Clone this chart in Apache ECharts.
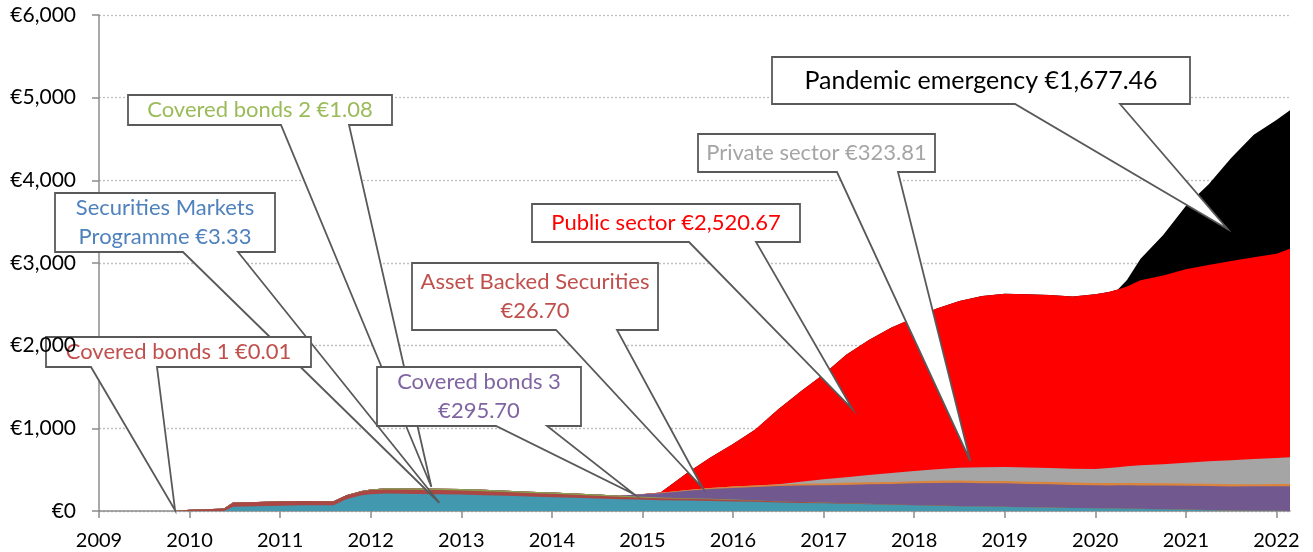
<!DOCTYPE html>
<html>
<head>
<meta charset="utf-8">
<script src="https://cdn.jsdelivr.net/npm/echarts@6/dist/echarts.min.js"></script>
<style>
  html, body { margin: 0; padding: 0; background: #fff; }
  #chart { width: 1313px; height: 552px; }
</style>
</head>
<body>
<div id="chart"></div>
<script>
// time axis in decimal years
const dates = [2009.84, 2010.00, 2010.33, 2010.38, 2010.48, 2010.75, 2011.00, 2011.25, 2011.59, 2011.73,
  2011.90, 2012.00, 2012.18, 2012.50, 2012.75, 2013.00, 2013.25, 2013.50, 2013.75, 2014.00,
  2014.25, 2014.50, 2014.75, 2014.95, 2015.20, 2015.50, 2015.75, 2016.00, 2016.25, 2016.50,
  2016.75, 2017.00, 2017.25, 2017.50, 2017.75, 2018.00, 2018.25, 2018.50, 2018.75, 2019.00,
  2019.25, 2019.50, 2019.75, 2020.00, 2020.15, 2020.25, 2020.35, 2020.50, 2020.75, 2021.00,
  2021.25, 2021.50, 2021.75, 2022.00, 2022.15];

// holdings, € bn (stack order bottom -> top)
const smp = [0, 0, 0, 0, 50, 57, 65, 69, 69, 143,
  190, 204, 212, 206, 204, 200, 192, 184, 176, 167,
  159, 151, 143, 139, 131, 127, 122, 116, 111, 102,
  98, 93, 87, 81, 75, 69, 64, 58, 53, 48,
  44, 40, 36, 32, 30, 29, 27, 25, 21, 16,
  10, 4, 3, 3, 3.33];
const cb1 = [0, 15, 28, 30, 52, 52, 53, 53, 49, 49,
  49, 49, 48, 50, 49, 49, 48, 45, 41, 41,
  37, 33, 28, 24, 24, 20, 21, 18, 15, 12,
  10, 8, 6, 5, 4, 3, 2, 2, 1, 1,
  1, 0.5, 0.3, 0.2, 0.1, 0.1, 0.1, 0.1, 0.1, 0.1,
  0.1, 0.1, 0.1, 0.1, 0.01];
const cb2 = [0, 0, 0, 0, 0, 0, 0, 0, 0, 0,
  3, 8, 16, 16, 16, 16, 16, 16, 16, 16,
  16, 16, 13, 13, 8, 8, 5, 4, 3, 2,
  2, 1, 1, 1, 1, 1, 1, 1, 1, 1,
  1, 1, 1, 1, 1, 1, 1, 1, 1, 1,
  1, 1, 1, 1, 1.08];
const cb3 = [0, 0, 0, 0, 0, 0, 0, 0, 0, 0,
  0, 0, 0, 0, 0, 0, 0, 0, 0, 0,
  0, 0, 0, 25, 53, 90, 118, 140, 160, 186,
  198, 208, 222, 236, 246, 262, 271, 282, 282, 285,
  282, 282, 278, 277, 278, 280, 282, 283, 285, 288,
  290, 292, 294, 295, 295.70];
const abs = [0, 0, 0, 0, 0, 0, 0, 0, 0, 0,
  0, 0, 0, 0, 0, 0, 0, 0, 0, 0,
  0, 0, 0, 0, 4, 8, 13, 17, 19, 20,
  22, 24, 25, 25, 26, 26, 27, 27, 27, 27,
  27, 28, 29, 30, 30, 30, 30, 30, 29, 28,
  28, 28, 27, 27, 26.70];
const privateSector = [0, 0, 0, 0, 0, 0, 0, 0, 0, 0,
  0, 0, 0, 0, 0, 0, 0, 0, 0, 0,
  0, 0, 0, 0, 0, 0, 0, 0, 0, 3,
  25, 49, 68, 88, 107, 123, 140, 153, 165, 170,
  170, 168, 168, 168, 180, 188, 200, 215, 230, 251,
  272, 290, 305, 315, 323.81];
const publicSector = [0, 0, 0, 0, 0, 0, 0, 0, 0, 0,
  0, 0, 0, 0, 0, 0, 0, 0, 0, 0,
  0, 0, 0, 0, 5, 212, 367, 515, 682, 905,
  1095, 1270, 1481, 1634, 1761, 1855, 1945, 2017, 2071, 2097,
  2097, 2093, 2083, 2113, 2131, 2152, 2175, 2236, 2284, 2339,
  2374, 2409, 2440, 2472, 2520.67];
const pandemic = [0, 0, 0, 0, 0, 0, 0, 0, 0, 0,
  0, 0, 0, 0, 0, 0, 0, 0, 0, 0,
  0, 0, 0, 0, 0, 0, 0, 0, 0, 0,
  0, 0, 0, 0, 0, 0, 0, 0, 0, 0,
  0, 0, 0, 0, 0, 0, 80, 260, 489, 767,
  975, 1246, 1480, 1617, 1677.46];

const yearTicks = [2009, 2010, 2011, 2012, 2013, 2014, 2015, 2016, 2017, 2018, 2019, 2020, 2021, 2022];

const layers = [
  { name: 'Securities Markets Programme', data: smp, color: '#4198AF' },
  { name: 'Covered bonds 1', data: cb1, color: '#AA4643' },
  { name: 'Covered bonds 2', data: cb2, color: '#89A54E' },
  { name: 'Covered bonds 3', data: cb3, color: '#71588F' },
  { name: 'Asset Backed Securities', data: abs, color: '#DB843D' },
  { name: 'Private sector', data: privateSector, color: '#A5A5A5' },
  { name: 'Public sector', data: publicSector, color: '#FF0000' },
  { name: 'Pandemic emergency', data: pandemic, color: '#000000' },
];

// callouts: box in px, wedge base x on box bottom, tip in data coords
const callouts = [
  { text: 'Securities Markets\nProgramme €3.33', color: '#4F81BD', box: [55, 193, 275, 252], base: [183, 238], tip: [2012.757, 100] },
  { text: 'Covered bonds 2 €1.08', color: '#9BBB59', box: [128, 95, 392, 125], base: [281, 349], tip: [2012.67, 290] },
  { text: 'Covered bonds 1 €0.01', color: '#C0504D', box: [46, 337, 311, 367], base: [91, 157], tip: [2009.84, 10] },
  { text: 'Covered bonds 3\n€295.70', color: '#8064A2', box: [377, 367, 581, 426], base: [496, 547], tip: [2014.91, 203] },
  { text: 'Asset Backed Securities\n€26.70', color: '#C0504D', box: [412, 263, 658, 330], base: [556, 617], tip: [2015.665, 278] },
  { text: 'Public sector €2,520.67', color: '#FF0000', box: [532, 204, 800, 242], base: [689, 756], tip: [2017.32, 1230] },
  { text: 'Private sector €323.81', color: '#A5A5A5', box: [698, 134, 935, 172], base: [837, 898], tip: [2018.62, 605] },
  { text: 'Pandemic emergency €1,677.46', color: '#000000', box: [772, 57, 1190, 104], base: [1015, 1120], tip: [2021.46, 3412], size: 25 },
];

const FONT = 'Lato, "Noto Sans", sans-serif';
const axisGrey = '#8C8C8C';

// stack by hand: running totals, drawn top layer first so lower layers paint over
const running = dates.map(() => 0);
const stacked = layers.map((l) => {
  const tops = l.data.map((v, i) => (running[i] += v));
  return { ...l, tops };
});

const chart = echarts.init(document.getElementById('chart'));

const option = {
  animation: false,
  grid: { left: 99, right: 23, top: 15, bottom: 41 },
  xAxis: {
    type: 'value',
    min: 2009,
    max: 2022.15,
    interval: 1,
    axisLine: { lineStyle: { color: axisGrey, width: 1.5 } },
    axisTick: { show: true, length: 7, lineStyle: { color: axisGrey, width: 1.5 }, customValues: yearTicks },
    axisLabel: {
      color: '#000', fontSize: 20, fontFamily: FONT, margin: 20,
      customValues: yearTicks,
      formatter: (v) => (Number.isInteger(v) ? String(v) : ''),
    },
    splitLine: { show: false },
  },
  yAxis: [
    {
      type: 'value', min: 0, max: 6000, interval: 1000, position: 'left',
      axisLine: { show: true, lineStyle: { color: axisGrey, width: 1.5 } },
      axisTick: { show: true, length: 7, lineStyle: { color: axisGrey, width: 1.5 } },
      axisLabel: { show: false },
      splitLine: { show: true, lineStyle: { color: '#BFBFBF', type: [2, 2], width: 1.3 } },
    },
    {
      type: 'value', min: 0, max: 6000, interval: 1000, position: 'left', z: 100,
      axisLine: { show: false },
      axisTick: { show: false },
      splitLine: { show: false },
      axisLabel: {
        color: '#000', fontSize: 21, fontFamily: FONT, margin: 23,
        formatter: (v) => '€' + v.toLocaleString('en-US'),
      },
    },
  ],
  series: stacked.slice().reverse().map((l) => ({
    name: l.name,
    type: 'line',
    yAxisIndex: 0,
    symbol: 'none',
    lineStyle: { width: 0 },
    areaStyle: { color: l.color, opacity: 1, origin: 'start' },
    data: dates.map((d, i) => [d, l.tops[i]]),
  })),
};

chart.setOption(option);

// draw the speech-bubble callouts once the scales exist
const graphics = [];
callouts.forEach((c, i) => {
  const [x0, y0, x1, y1] = c.box;
  const tip = chart.convertToPixel({ xAxisIndex: 0, yAxisIndex: 0 }, c.tip);
  graphics.push({
    type: 'polygon',
    z: 50 + i * 2,
    shape: {
      points: [[x0, y0], [x1, y0], [x1, y1], [c.base[1], y1], tip, [c.base[0], y1], [x0, y1]],
    },
    style: { fill: '#fff', stroke: '#595959', lineWidth: 1.8 },
  });
  const size = c.size || 22;
  graphics.push({
    type: 'text',
    z: 51 + i * 2,
    x: (x0 + x1) / 2,
    y: (y0 + y1) / 2,
    style: {
      text: c.text,
      fill: c.color,
      font: size + 'px ' + FONT,
      align: 'center',
      verticalAlign: 'middle',
      lineHeight: 29,
    },
  });
});
chart.setOption({ graphic: graphics });
</script>
</body>
</html>
